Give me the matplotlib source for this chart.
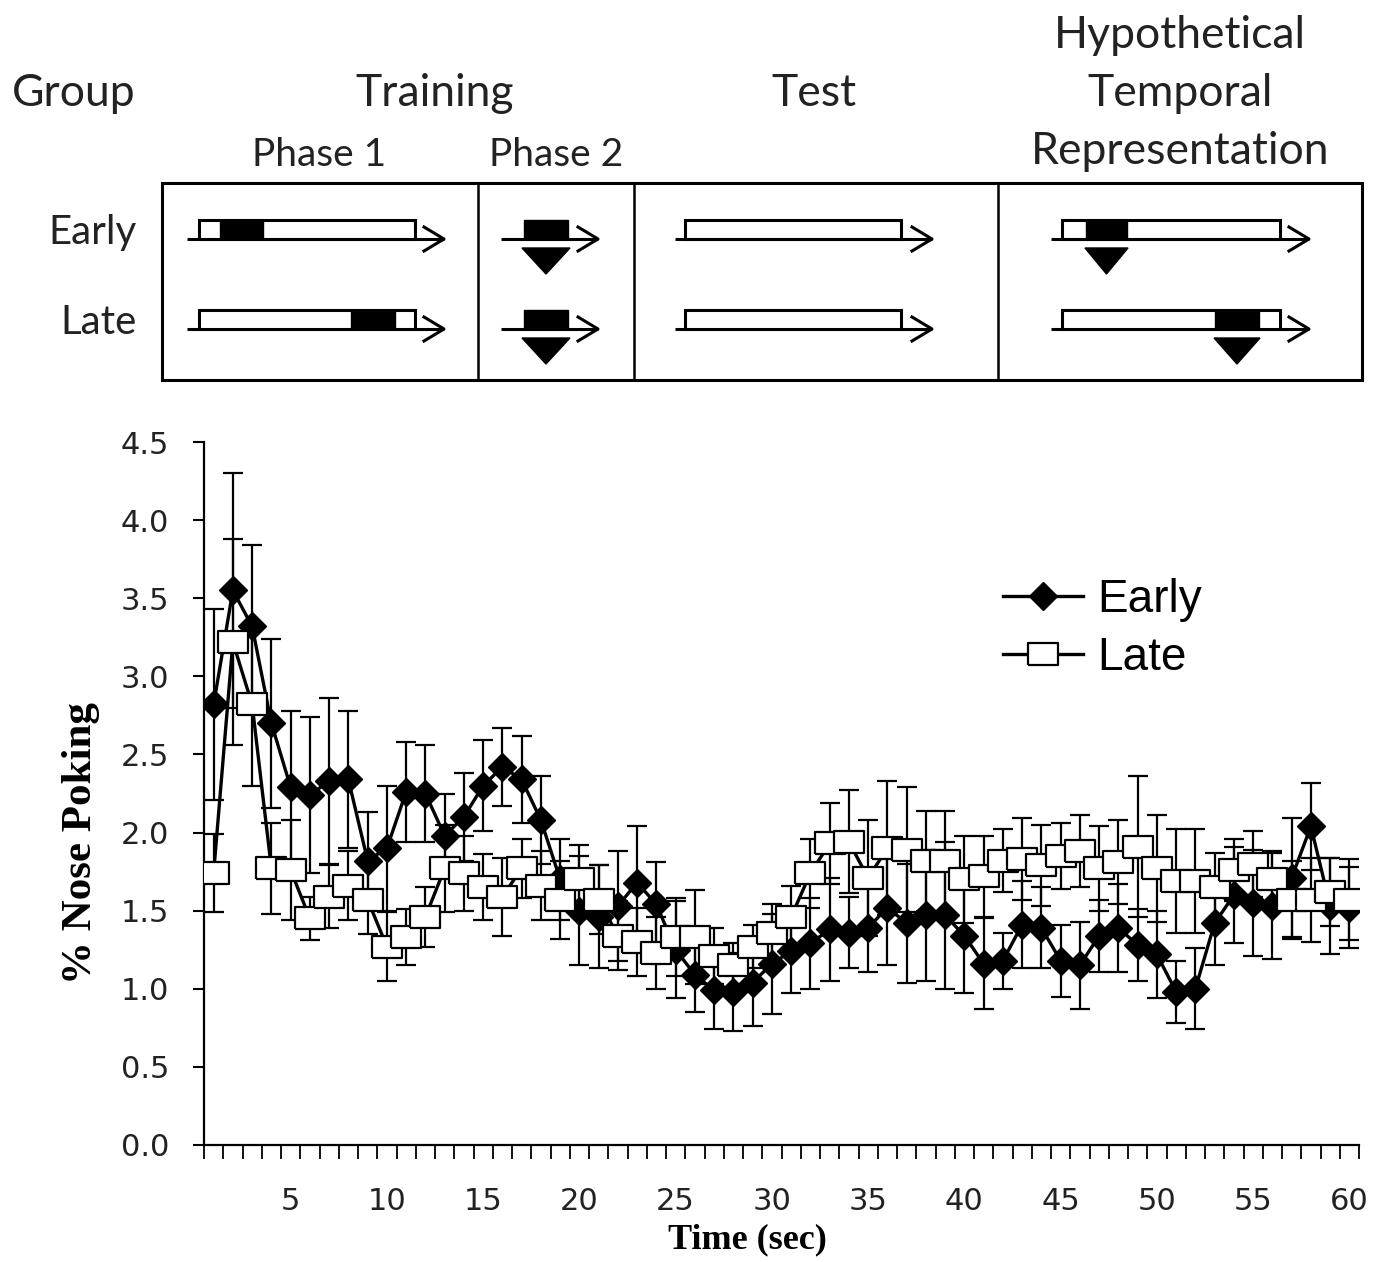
import numpy as np
import matplotlib
matplotlib.use("Agg")
import matplotlib.pyplot as plt
from matplotlib.patches import Rectangle, Polygon

# -----------------------------
# data
# -----------------------------
time_sec = list(range(1, 61))

early_mean = [2.82, 3.55, 3.32, 2.70, 2.29, 2.24, 2.33, 2.34, 1.82, 1.90,
              2.26, 2.25, 1.98, 2.10, 2.30, 2.42, 2.34, 2.08, 1.70, 1.50,
              1.46, 1.53, 1.68, 1.54, 1.25, 1.09, 0.99, 0.98, 1.04, 1.16,
              1.24, 1.29, 1.38, 1.36, 1.39, 1.52, 1.42, 1.47, 1.47, 1.34,
              1.16, 1.18, 1.41, 1.39, 1.18, 1.15, 1.34, 1.39, 1.28, 1.22,
              0.98, 1.00, 1.42, 1.60, 1.55, 1.53, 1.71, 2.04, 1.53, 1.52]
early_sem = [0.61, 0.75, 0.52, 0.54, 0.49, 0.50, 0.53, 0.44, 0.31, 0.40,
             0.32, 0.31, 0.27, 0.28, 0.29, 0.25, 0.28, 0.28, 0.26, 0.35,
             0.33, 0.35, 0.36, 0.27, 0.31, 0.24, 0.25, 0.25, 0.28, 0.32,
             0.27, 0.29, 0.33, 0.23, 0.28, 0.37, 0.38, 0.42, 0.47, 0.37,
             0.29, 0.18, 0.28, 0.26, 0.23, 0.28, 0.23, 0.28, 0.23, 0.28,
             0.20, 0.26, 0.27, 0.31, 0.34, 0.34, 0.38, 0.28, 0.31, 0.26]

late_mean = [1.74, 3.22, 2.82, 1.77, 1.76, 1.45, 1.59, 1.66, 1.57, 1.27,
             1.33, 1.46, 1.77, 1.74, 1.65, 1.59, 1.77, 1.66, 1.57, 1.70,
             1.57, 1.34, 1.30, 1.23, 1.33, 1.33, 1.21, 1.15, 1.27, 1.36,
             1.46, 1.74, 1.93, 1.94, 1.71, 1.90, 1.89, 1.82, 1.82, 1.70,
             1.72, 1.82, 1.83, 1.79, 1.85, 1.88, 1.77, 1.81, 1.91, 1.77,
             1.69, 1.69, 1.65, 1.76, 1.80, 1.70, 1.57, 1.57, 1.62, 1.57]
late_sem = [0.25, 0.66, 0.52, 0.29, 0.32, 0.14, 0.20, 0.22, 0.22, 0.22,
            0.18, 0.19, 0.28, 0.24, 0.21, 0.25, 0.19, 0.22, 0.25, 0.22,
            0.22, 0.22, 0.22, 0.23, 0.25, 0.30, 0.18, 0.14, 0.14, 0.18,
            0.20, 0.22, 0.26, 0.33, 0.37, 0.43, 0.40, 0.32, 0.32, 0.28,
            0.26, 0.20, 0.26, 0.26, 0.21, 0.23, 0.27, 0.27, 0.45, 0.34,
            0.33, 0.33, 0.22, 0.20, 0.21, 0.18, 0.25, 0.27, 0.22, 0.26]

y_ticks = [0.0, 0.5, 1.0, 1.5, 2.0, 2.5, 3.0, 3.5, 4.0, 4.5]
x_labels = [5, 10, 15, 20, 25, 30, 35, 40, 45, 50, 55, 60]

W, H = 1379, 1262
fig = plt.figure(figsize=(W / 100, H / 100), dpi=100)

# -----------------------------
# schematic on top (pixel coords)
# -----------------------------
ov = fig.add_axes([0, 0, 1, 1])
ov.set_xlim(0, W)
ov.set_ylim(H, 0)
ov.axis("off")
ov.patch.set_visible(False)

hdr = dict(family="Lato", color="#222222")
ov.text(74, 106, "Group", ha="center", va="baseline", fontsize=32, **hdr)
ov.text(435, 106, "Training", ha="center", va="baseline", fontsize=32, **hdr)
ov.text(814, 106, "Test", ha="center", va="baseline", fontsize=32, **hdr)
ov.text(1180, 48, "Hypothetical", ha="center", va="baseline", fontsize=32, **hdr)
ov.text(1180, 106, "Temporal", ha="center", va="baseline", fontsize=32, **hdr)
ov.text(1180, 164, "Representation", ha="center", va="baseline", fontsize=32, **hdr)
ov.text(319, 166, "Phase 1", ha="center", va="baseline", fontsize=28, **hdr)
ov.text(556, 166, "Phase 2", ha="center", va="baseline", fontsize=28, **hdr)
ov.text(137, 244, "Early", ha="right", va="baseline", fontsize=29, **hdr)
ov.text(137, 334, "Late", ha="right", va="baseline", fontsize=29, **hdr)

lw = 2.2
ov.add_patch(Rectangle((162, 183), 1200, 197, fill=False, lw=lw, ec="black"))
for xd in [478, 634, 998]:
    ov.plot([xd, xd], [183, 380], color="black", lw=1.8)


def timeline(x0, tip, y, box=None, fill=None, tri=None, stim=None):
    ov.plot([x0, tip], [y, y], color="black", lw=lw, solid_capstyle="butt")
    ov.plot([tip - 20, tip, tip - 20], [y - 12, y, y + 12], color="black", lw=lw)
    bh = 19
    if box is not None:
        ov.add_patch(Rectangle((box[0], y - bh), box[1] - box[0], bh,
                               fc="white", ec="black", lw=lw, zorder=3))
    if fill is not None:
        ov.add_patch(Rectangle((fill[0], y - bh), fill[1] - fill[0], bh,
                               fc="black", ec="black", lw=1, zorder=4))
    if stim is not None:
        ov.add_patch(Rectangle((stim[0], y - bh), stim[1] - stim[0], bh,
                               fc="black", ec="black", lw=1, zorder=4))
    if tri is not None:
        ov.add_patch(Polygon([(tri[0], y + 9), (tri[1], y + 9),
                              ((tri[0] + tri[1]) / 2, y + 35)],
                             closed=True, fc="black", ec="black", zorder=4))


rows = [239, 329]
# phase 1
timeline(187, 444, rows[0], box=(199, 415), fill=(220, 263))
timeline(187, 444, rows[1], box=(199, 415), fill=(351, 395))
# phase 2
timeline(501, 598, rows[0], stim=(524, 568), tri=(522, 570))
timeline(501, 598, rows[1], stim=(524, 568), tri=(522, 570))
# test
timeline(675, 932, rows[0], box=(685, 901))
timeline(675, 932, rows[1], box=(685, 901))
# hypothetical
timeline(1051, 1309, rows[0], box=(1062, 1280), fill=(1086, 1127), tri=(1085, 1128))
timeline(1051, 1309, rows[1], box=(1062, 1280), fill=(1215, 1259), tri=(1214, 1260))

# -----------------------------
# line chart
# -----------------------------
ax = fig.add_axes([204 / W, (H - 1145) / H, (1359 - 204) / W, 703 / H])

# wide rectangle marker like the Excel squares
rect_marker = [(-1.35, -1), (1.35, -1), (1.35, 1), (-1.35, 1), (-1.35, -1)]

eb_early = ax.errorbar(time_sec, early_mean, yerr=early_sem, color="black",
                       lw=2.4, marker="D", markersize=14, mfc="black",
                       mec="black", ecolor="black", elinewidth=1.6, capsize=7,
                       capthick=1.6, zorder=3)
eb_late = ax.errorbar(time_sec, late_mean, yerr=late_sem, color="black",
                      lw=2.4, marker=rect_marker, markersize=21, mfc="white",
                      mec="black", mew=1.6, ecolor="black", elinewidth=1.6,
                      capsize=7, capthick=1.6, zorder=4)

ax.set_xlim(0.5, 60.5)
ax.set_ylim(0, 4.5)
ax.set_yticks(y_ticks)
ax.set_yticklabels([f"{v:.1f}" for v in y_ticks])
ax.set_xticks(x_labels)
ax.set_xticklabels([str(v) for v in x_labels])
ax.set_xticks(np.arange(0.5, 61, 1.0), minor=True)

ax.tick_params(axis="y", direction="out", length=8, width=1.5, pad=17,
               labelsize=22)
ax.tick_params(axis="x", which="major", length=0, pad=30, labelsize=22)
ax.tick_params(axis="x", which="minor", direction="out", length=10, width=1.3)
for lab in ax.get_xticklabels() + ax.get_yticklabels():
    lab.set_family("DejaVu Sans")
    lab.set_color("#222222")

for s in ["top", "right"]:
    ax.spines[s].set_visible(False)
for s in ["left", "bottom"]:
    ax.spines[s].set_linewidth(1.6)

fig.text(81 / W, 1 - 843 / H, "% Nose Poking", family="Liberation Serif",
         fontweight="bold", fontsize=31, rotation=90, ha="center", va="center")
fig.text(747 / W, 1 - 1240 / H, "Time (sec)", family="Liberation Serif",
         fontweight="bold", fontsize=26, ha="center", va="center")

ax.legend([eb_early.lines[0], eb_late.lines[0]], ["Early", "Late"],
          loc="upper left", bbox_to_anchor=(1003 / W, (H - 578) / H),
          bbox_transform=fig.transFigure, frameon=False,
          prop={"family": "Liberation Sans", "size": 33},
          handlelength=1.75, handletextpad=0.3, labelspacing=0.3,
          borderpad=0, borderaxespad=0)

fig.savefig("out.png", dpi=100)
